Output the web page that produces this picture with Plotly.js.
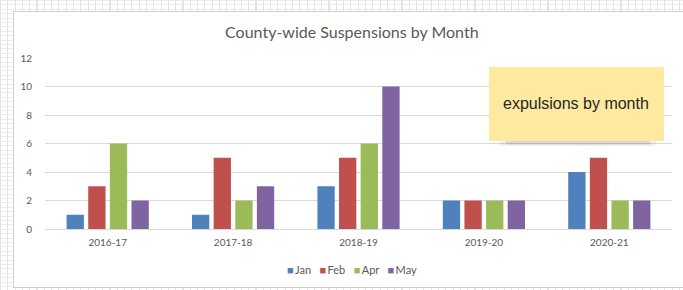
<!DOCTYPE html>
<html>
<head>
<meta charset="utf-8">
<script src="https://cdn.plot.ly/plotly-3.0.1.min.js"></script>
<style>
  html, body { margin: 0; padding: 0; width: 683px; height: 290px; overflow: hidden; }
  body {
    background-color: #ffffff;
    background-image:
      repeating-linear-gradient(to right, #e4e4e4 0px, #e4e4e4 1px, transparent 1px, transparent 7.3px),
      repeating-linear-gradient(to bottom, #ececec 0px, #ececec 1px, transparent 1px, transparent 4.4px);
  }
  #frame {
    position: absolute; left: 13px; top: 11px; width: 670px; height: 275px;
    background: #ffffff; border-left: 1px solid #cfcfcf; border-top: 1px solid #cfcfcf; border-bottom: 1px solid #cfcfcf;
  }
  #chart { width: 669px; height: 274px; }
</style>
</head>
<body>
<div id="frame"><div id="chart"></div></div>
<script>
const years = ["2016-17", "2017-18", "2018-19", "2019-20", "2020-21"];
const janValues = [1, 1, 3, 2, 4];
const febValues = [3, 5, 5, 2, 5];
const aprValues = [6, 2, 6, 2, 2];
const mayValues = [2, 3, 10, 2, 2];
const seriesNames = ["Jan", "Feb", "Apr", "May"];
const seriesColors = ["#4F81BD", "#C0504D", "#9BBB59", "#8064A2"];
const yTicks = [0, 2, 4, 6, 8, 10, 12];

const allValues = [janValues, febValues, aprValues, mayValues];
const traces = allValues.map((vals, i) => ({
  type: "bar",
  name: seriesNames[i],
  x: years,
  y: vals,
  marker: { color: seriesColors[i] },
  showlegend: false,
  hoverinfo: "x+y+name"
}));

// compact Excel-style legend built from the series names and colours
const legendText = seriesNames
  .map((n, i) => `<span style="color:${seriesColors[i]}">■</span>&#8201;${n}`)
  .join("&nbsp;&nbsp;&nbsp;");

const layout = {
  width: 669,
  height: 274,
  margin: { l: 31, r: 11, t: 46, b: 57, autoexpand: false },
  paper_bgcolor: "#ffffff",
  plot_bgcolor: "#ffffff",
  font: { family: "Lato, 'Open Sans', sans-serif", color: "#595959" },
  title: {
    text: "County-wide Suspensions by Month",
    font: { family: "Lato, 'Open Sans', sans-serif", size: 16, color: "#595959" },
    x: 0.505, xanchor: "center", y: 0.925, yanchor: "middle"
  },
  barmode: "group",
  bargap: 0.31,
  bargroupgap: 0.2,
  xaxis: {
    type: "category",
    automargin: false,
    showgrid: false,
    showline: true,
    linecolor: "#d9d9d9",
    linewidth: 1,
    ticks: "",
    tickfont: { size: 10, color: "#595959" },
    ticklabelstandoff: 4
  },
  yaxis: {
    range: [0, 12],
    automargin: false,
    tickvals: yTicks,
    ticktext: yTicks.map(String),
    showgrid: true,
    gridcolor: "#d9d9d9",
    gridwidth: 1,
    zeroline: true,
    zerolinecolor: "#d9d9d9",
    showline: false,
    ticks: "",
    tickfont: { size: 10, color: "#595959" },
    ticklabelstandoff: 12
  },
  showlegend: false,
  shapes: [
    { type: "rect", xref: "paper", yref: "paper", x0: 0.725, x1: 0.975, y0: 0.485, y1: 0.52,
      fillcolor: "rgba(0,0,0,0.05)", line: { width: 0 }, layer: "above" },
    { type: "rect", xref: "paper", yref: "paper", x0: 0.735, x1: 0.965, y0: 0.492, y1: 0.52,
      fillcolor: "rgba(0,0,0,0.10)", line: { width: 0 }, layer: "above" },
    { type: "rect", xref: "paper", yref: "paper", x0: 0.708, x1: 0.987, y0: 0.515, y1: 0.947,
      fillcolor: "#FEE9A1", line: { width: 0 }, layer: "above" }
  ],
  annotations: [
    { xref: "paper", yref: "paper", x: 0.847, y: 0.735, xanchor: "center", yanchor: "middle",
      text: "expulsions by month", showarrow: false,
      font: { family: "'Liberation Sans', Arial, sans-serif", size: 16, color: "#262626" } },
    { xref: "paper", yref: "paper", x: 0.49, y: -0.234, xanchor: "center", yanchor: "middle",
      text: legendText, showarrow: false,
      font: { family: "Lato, 'Open Sans', sans-serif", size: 11, color: "#595959" } }
  ]
};

Plotly.newPlot("chart", traces, layout, { displayModeBar: false, staticPlot: true });
</script>
</body>
</html>
